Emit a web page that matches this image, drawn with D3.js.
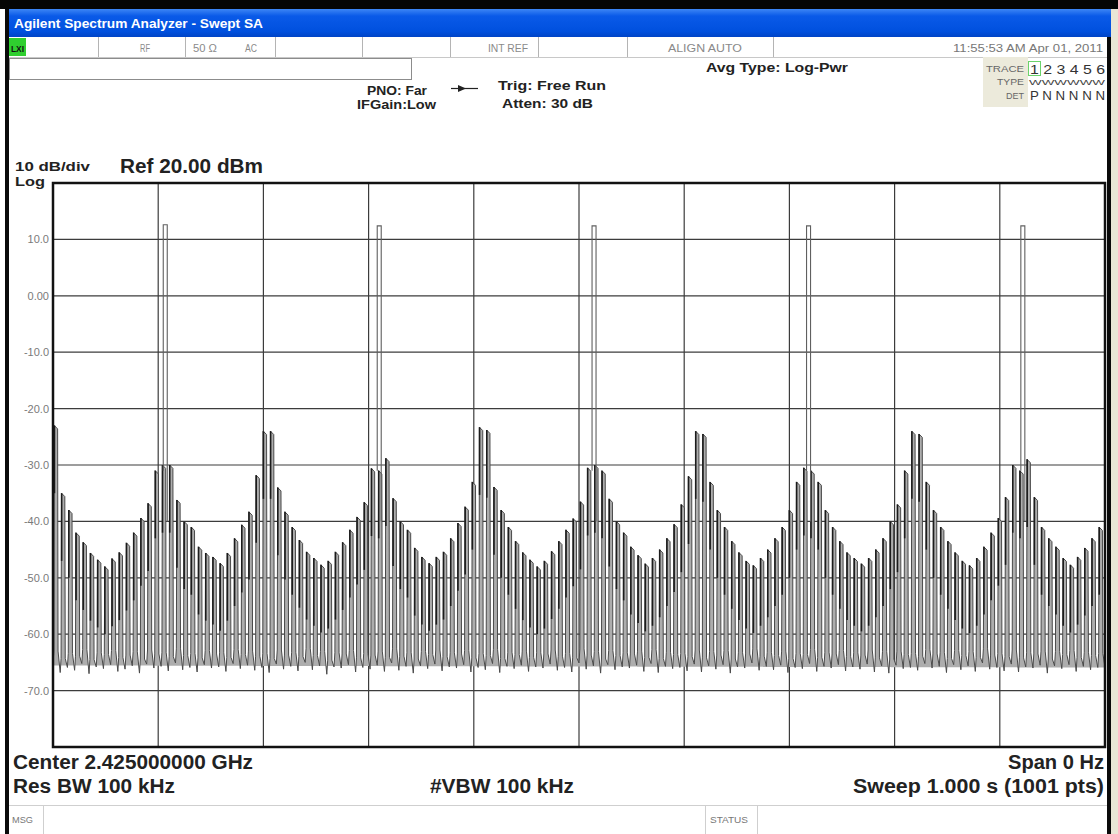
<!DOCTYPE html>
<html>
<head>
<meta charset="utf-8">
<script src="https://cdn.jsdelivr.net/npm/d3@7"></script>
<style>
  body { margin: 0; background: #fff; }
  svg { display: block; font-family: "Liberation Sans", Arial, sans-serif; }
</style>
</head>
<body>
<svg id="chart" width="1118" height="834"></svg>
<script>
// amplitude axis (dBm), 10 dB/div from Ref 20 dBm
const yTicks = [10, 0, -10, -20, -30, -40, -50, -60, -70];
const yTickLabels = ["10.0", "0.00", "-10.0", "-20.0", "-30.0", "-40.0", "-50.0", "-60.0", "-70.0"];

// peak level of each ripple of the zero-span trace, left to right (dBm)
const cycleTop = [
  -23, -35, -38, -42, -43.7, -45.6, -46.8, -48, -46.6, -45.5,
  -43.8, -42, -39.4, -36.8, -31, -30, -30, -36.2, -40, -41,
  -44.5, -45.6, -46.3, -47.4, -45.6, -43, -40.6, -38.3, -31.8, -24,
  -24, -34, -38.3, -41, -43.3, -45.4, -46.5, -47.7, -47, -45.4,
  -43.7, -41.5, -39.2, -36.6, -30.6, -31, -28.8, -35.9, -40, -41.5,
  -44.7, -46.3, -47.4, -46.3, -45.4, -43, -40.3, -37.4, -33, -23.3,
  -23.8, -33.9, -38, -41, -43.5, -45.5, -46.8, -48, -47, -45.3,
  -43.5, -41.5, -39.5, -36.5, -30.5, -30, -31, -36, -40, -42,
  -44.5, -46, -47.5, -46.5, -45, -43, -40.5, -37, -32, -24,
  -24.5, -33, -38, -41, -43.5, -45.5, -47, -47.8, -46.5, -45,
  -43, -41, -38, -33, -30.5, -31, -33, -38, -41, -43.5,
  -45.5, -46.5, -47.5, -46.5, -45, -43, -40, -37, -31, -24,
  -24.5, -33, -38, -41, -43.5, -45.5, -47, -47.8, -46.5, -44.5,
  -42, -39.4, -35.7, -30, -31, -29, -35.7, -41, -43, -44.5,
  -46.5, -47.7, -46.3, -44.7, -43, -41
];

// floor of each ripple (dBm)
const cycleLow = [
  -65.5, -66.8, -65.9, -66.4, -65.2, -67.0, -65.8, -66.1, -65.4, -66.6,
  -66.2, -65.6, -66.9, -65.3, -66.0, -65.7, -66.5, -65.1, -66.3, -65.9,
  -66.7, -65.4, -66.0, -65.8, -66.6, -65.2, -66.1, -65.5, -66.4, -65.9,
  -66.8, -65.3, -66.2, -65.7, -66.5, -65.0, -66.3, -65.6, -67.1, -65.8,
  -66.0, -65.4, -66.7, -65.9, -66.2, -65.5, -66.6, -65.1, -66.4, -65.7,
  -66.9, -65.6, -66.1, -65.3, -66.5, -65.8, -66.0, -65.4, -66.7, -65.9,
  -66.3, -65.2, -66.8, -65.7, -66.1, -65.5, -66.6, -65.8, -66.0, -65.3,
  -66.4, -65.9, -66.7, -65.1, -66.2, -65.6, -66.9, -65.4, -66.3, -65.8,
  -66.0, -65.5, -66.6, -65.2, -66.8, -65.7, -66.1, -65.9, -66.5, -65.3,
  -66.7, -65.6, -66.2, -65.4, -66.9, -65.8, -66.0, -65.1, -66.4, -65.7,
  -66.3, -65.5, -66.8, -65.9, -66.1, -65.2, -66.6, -65.7, -66.0, -65.4,
  -66.5, -65.8, -66.2, -65.3, -66.7, -65.6, -66.9, -65.5, -66.1, -65.9,
  -66.4, -65.2, -66.0, -65.7, -66.8, -65.4, -66.3, -65.6, -66.6, -65.1,
  -66.2, -65.9, -66.5, -65.3, -66.7, -65.8, -66.0, -65.5, -66.9, -65.6,
  -66.1, -65.4, -66.6, -65.7, -66.3, -65.9
];

// beacon bursts: start time (s) and level (dBm)
const burstTimes = [0.1048, 0.3082, 0.5124, 0.7163, 0.9200];
const burstLevels = [12.6, 12.4, 12.4, 12.4, 12.4];
const burstWidth = 0.0038;

const svg = d3.select('#chart');

const x = d3.scaleLinear().domain([0, 1]).range([53, 1105]);
const y = d3.scaleLinear().domain([-80, 20]).range([747, 183]);

function label(px, py, str, o) {
    o = o || {};
    const t = svg.append('text')
        .attr('x', px).attr('y', py)
        .attr('font-size', o.size || 12)
        .attr('font-weight', o.weight || 'normal')
        .attr('fill', o.fill || '#111')
        .attr('text-anchor', o.anchor || 'start')
        .text(str);
    if (o.len) t.attr('textLength', o.len).attr('lengthAdjust', 'spacingAndGlyphs');
    return t;
}

// ---- window frame ----
svg.append('rect').attr('x', 0).attr('y', 0).attr('width', 1118).attr('height', 9).attr('fill', '#050505');
svg.append('rect').attr('x', 5).attr('y', 9).attr('width', 4).attr('height', 825).attr('fill', '#0a0a0a');
svg.append('rect').attr('x', 1107).attr('y', 37).attr('width', 4).attr('height', 797).attr('fill', '#0a0a0a');
svg.append('rect').attr('x', 1111).attr('y', 9).attr('width', 7).attr('height', 825).attr('fill', '#e9e6d6');

const grad = svg.append('defs').append('linearGradient')
    .attr('id', 'titleGrad').attr('x1', 0).attr('y1', 0).attr('x2', 0).attr('y2', 1);
grad.append('stop').attr('offset', '0%').attr('stop-color', '#3d86f5');
grad.append('stop').attr('offset', '25%').attr('stop-color', '#0a5ae8');
grad.append('stop').attr('offset', '80%').attr('stop-color', '#0050de');
grad.append('stop').attr('offset', '100%').attr('stop-color', '#0044c6');
svg.append('rect').attr('x', 9).attr('y', 9).attr('width', 1102).attr('height', 28).attr('fill', 'url(#titleGrad)');
label(14, 28, 'Agilent Spectrum Analyzer - Swept SA', { size: 12.5, weight: 'bold', fill: '#fff', len: 249 });

// ---- status row ----
svg.append('line').attr('x1', 9).attr('x2', 1107).attr('y1', 57.5).attr('y2', 57.5).attr('stroke', '#c8c8c8');
[98, 185, 275, 362, 450, 538, 627, 773].forEach(sx => {
    svg.append('line').attr('x1', sx + 0.5).attr('x2', sx + 0.5).attr('y1', 37).attr('y2', 57)
        .attr('stroke', '#b4b4b4');
});
svg.append('rect').attr('x', 9).attr('y', 38).attr('width', 17).attr('height', 18).attr('fill', '#2fcf2f');
label(11, 52, 'LXI', { size: 9, weight: 'bold', fill: '#111', len: 13 });
label(140, 52, 'RF', { size: 10, fill: '#8a8a8a', len: 10 });
label(193, 52, '50 Ω', { size: 10, fill: '#8a8a8a', len: 24 });
label(245, 52, 'AC', { size: 10, fill: '#8a8a8a', len: 12 });
label(488, 52, 'INT REF', { size: 10, fill: '#8a8a8a', len: 40 });
label(668, 52, 'ALIGN AUTO', { size: 10, fill: '#8a8a8a', len: 74 });
label(1103, 52, '11:55:53 AM Apr 01, 2011', { size: 10, fill: '#777', anchor: 'end', len: 150 });

// empty entry box
svg.append('rect').attr('x', 9.5).attr('y', 58.5).attr('width', 402).attr('height', 21)
    .attr('fill', '#fff').attr('stroke', '#8c8c8c');

// ---- settings text ----
label(367, 95, 'PNO: Far', { size: 12, weight: 'bold', fill: '#222', len: 60 });
label(357, 109, 'IFGain:Low', { size: 12, weight: 'bold', fill: '#222', len: 79 });
svg.append('line').attr('x1', 451).attr('x2', 478).attr('y1', 88.5).attr('y2', 88.5).attr('stroke', '#222').attr('stroke-width', 1.2);
svg.append('path').attr('d', 'M458,85 L466,88.5 L458,92 Z').attr('fill', '#222');
label(498, 90, 'Trig: Free Run', { size: 13, weight: 'bold', fill: '#222', len: 108 });
label(502, 108, 'Atten: 30 dB', { size: 13, weight: 'bold', fill: '#222', len: 91 });
label(706, 72, 'Avg Type: Log-Pwr', { size: 13, weight: 'bold', fill: '#222', len: 142 });

// trace table
svg.append('rect').attr('x', 983).attr('y', 57).attr('width', 45).attr('height', 50).attr('fill', '#eceadb');
label(1024, 72, 'TRACE', { size: 8.5, fill: '#666', anchor: 'end', len: 38 });
label(1024, 85, 'TYPE', { size: 8.5, fill: '#666', anchor: 'end', len: 27 });
label(1024, 99, 'DET', { size: 8.5, fill: '#666', anchor: 'end', len: 18 });
svg.append('rect').attr('x', 1028.5).attr('y', 61.5).attr('width', 12).attr('height', 14)
    .attr('fill', 'none').attr('stroke', '#6bd36b');
label(1030, 74, '1 2 3 4 5 6', { size: 13, fill: '#333', len: 75 });
label(1029, 85, 'WWWWWW', { size: 8, fill: '#444', len: 76 });
label(1030, 100, 'P N N N N N', { size: 12, fill: '#333', len: 75 });

// ---- scale labels ----
label(15, 171, '10 dB/div', { size: 13.5, weight: 'bold', fill: '#222', len: 75 });
label(15, 186, 'Log', { size: 13, weight: 'bold', fill: '#222', len: 30 });
label(120, 173, 'Ref 20.00 dBm', { size: 20, weight: 'bold', fill: '#222', len: 143 });

// ---- graticule ----
const grid = svg.append('g').attr('stroke', '#3c3c3c').attr('stroke-width', 1.2);
grid.selectAll('.hgrid')
    .data(yTicks)
    .join('line')
    .attr('x1', x(0)).attr('x2', x(1))
    .attr('y1', d => y(d)).attr('y2', d => y(d));
grid.selectAll('.vgrid')
    .data(d3.range(0.1, 0.95, 0.1))
    .join('line')
    .attr('x1', d => x(d)).attr('x2', d => x(d))
    .attr('y1', y(20)).attr('y2', y(-80));

const yAxis = d3.axisLeft(y)
    .tickValues(yTicks)
    .tickSize(0)
    .tickPadding(4)
    .tickFormat((d, i) => yTickLabels[i]);
const yg = svg.append('g').attr('transform', `translate(${x(0)},0)`).call(yAxis);
yg.select('.domain').remove();
yg.selectAll('text')
    .attr('font-family', '"Liberation Sans", Arial, sans-serif')
    .attr('font-size', 11)
    .attr('fill', '#7a7a7a');

// ---- trace ----
const n = cycleTop.length;
const tracePts = [];
cycleTop.forEach((top, i) => {
    const t0 = i / n, w = 1 / n, low = cycleLow[i];
    tracePts.push([t0, low]);
    tracePts.push([t0 + 0.12 * w, low + 2.5]);
    tracePts.push([t0 + 0.18 * w, top]);
    tracePts.push([t0 + 0.64 * w, top - 0.6]);
    tracePts.push([t0 + 0.7 * w, low + 2.5]);
});
tracePts.push([1, cycleLow[n - 1]]);

const line = d3.line().x(d => x(d[0])).y(d => y(d[1]));

svg.append('path')
    .datum(tracePts)
    .attr('d', line)
    .attr('fill', '#adadad')
    .attr('stroke', '#4a4a4a')
    .attr('stroke-width', 1);

// darker leading edge of each ripple, where the sweep points stack up
svg.append('g')
    .selectAll('path')
    .data(cycleTop)
    .join('path')
    .attr('d', (top, i) => {
        const t = (i + 0.2) / n;
        return line([[t, top], [t, top - 12]]);
    })
    .attr('stroke', '#1c1c1c')
    .attr('stroke-width', 1.6);

// bursts
burstTimes.forEach((bt, i) => {
    const pts = [[bt, -31], [bt, burstLevels[i]], [bt + burstWidth, burstLevels[i]], [bt + burstWidth, -40]];
    svg.append('path')
        .datum(pts)
        .attr('d', line)
        .attr('fill', 'none')
        .attr('stroke', '#606060')
        .attr('stroke-width', 1.1);
});

// plot border
svg.append('rect')
    .attr('x', x(0)).attr('y', y(20))
    .attr('width', x(1) - x(0)).attr('height', y(-80) - y(20))
    .attr('fill', 'none').attr('stroke', '#111').attr('stroke-width', 2.5);

// ---- bottom annotations ----
label(13, 769, 'Center 2.425000000 GHz', { size: 20, weight: 'bold', fill: '#222', len: 240 });
label(13, 793, 'Res BW 100 kHz', { size: 20, weight: 'bold', fill: '#222', len: 162 });
label(430, 793, '#VBW 100 kHz', { size: 20, weight: 'bold', fill: '#222', len: 144 });
label(1104, 769, 'Span 0 Hz', { size: 20, weight: 'bold', fill: '#222', anchor: 'end', len: 96 });
label(1104, 793, 'Sweep  1.000 s (1001 pts)', { size: 20, weight: 'bold', fill: '#222', anchor: 'end', len: 251 });

// message row
svg.append('line').attr('x1', 9).attr('x2', 1107).attr('y1', 805.5).attr('y2', 805.5).attr('stroke', '#cfcfcf');
svg.append('line').attr('x1', 43.5).attr('x2', 43.5).attr('y1', 806).attr('y2', 834).attr('stroke', '#cfcfcf');
svg.append('line').attr('x1', 705.5).attr('x2', 705.5).attr('y1', 806).attr('y2', 834).attr('stroke', '#cfcfcf');
svg.append('line').attr('x1', 757.5).attr('x2', 757.5).attr('y1', 806).attr('y2', 834).attr('stroke', '#cfcfcf');
label(12, 823, 'MSG', { size: 9, fill: '#777', len: 21 });
label(710, 823, 'STATUS', { size: 9, fill: '#777', len: 38 });
</script>
</body>
</html>
